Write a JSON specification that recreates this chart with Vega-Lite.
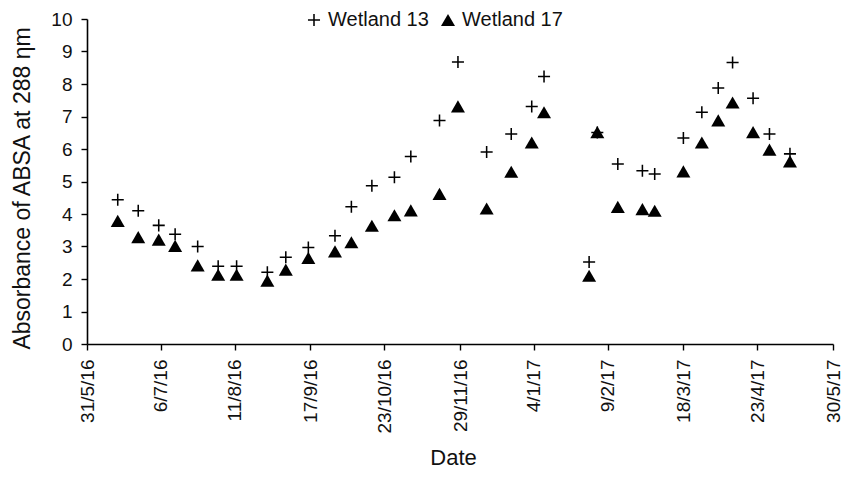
{
  "$schema": "https://vega.github.io/schema/vega-lite/v6.json",
  "autosize": {"type": "none"},
  "padding": {"left": 87, "top": 19, "right": 21, "bottom": 142},
  "width": 746,
  "height": 325,
  "background": "white",
  "view": {"stroke": null},
  "config": {
    "font": "Liberation Sans",
    "axis": {
      "domainColor": "#000",
      "domainWidth": 1.6,
      "tickColor": "#000",
      "tickWidth": 1.4,
      "tickSize": 6,
      "labelFont": "Liberation Sans",
      "labelFontSize": 19,
      "labelColor": "#111",
      "labelPadding": 9,
      "titleFont": "Liberation Sans",
      "titleFontSize": 23,
      "titleFontWeight": "normal",
      "titleColor": "#111",
      "grid": false
    }
  },
  "data": {
    "values": [
      {"date": "2016-06-15", "site": "Wetland 13", "absorbance": 4.44},
      {"date": "2016-06-25", "site": "Wetland 13", "absorbance": 4.10},
      {"date": "2016-07-05", "site": "Wetland 13", "absorbance": 3.65},
      {"date": "2016-07-13", "site": "Wetland 13", "absorbance": 3.38},
      {"date": "2016-07-24", "site": "Wetland 13", "absorbance": 3.00},
      {"date": "2016-08-03", "site": "Wetland 13", "absorbance": 2.39},
      {"date": "2016-08-12", "site": "Wetland 13", "absorbance": 2.39},
      {"date": "2016-08-27", "site": "Wetland 13", "absorbance": 2.21},
      {"date": "2016-09-05", "site": "Wetland 13", "absorbance": 2.67},
      {"date": "2016-09-16", "site": "Wetland 13", "absorbance": 2.97},
      {"date": "2016-09-29", "site": "Wetland 13", "absorbance": 3.33},
      {"date": "2016-10-07", "site": "Wetland 13", "absorbance": 4.22},
      {"date": "2016-10-17", "site": "Wetland 13", "absorbance": 4.87},
      {"date": "2016-10-28", "site": "Wetland 13", "absorbance": 5.13},
      {"date": "2016-11-05", "site": "Wetland 13", "absorbance": 5.77},
      {"date": "2016-11-19", "site": "Wetland 13", "absorbance": 6.88},
      {"date": "2016-11-28", "site": "Wetland 13", "absorbance": 8.68},
      {"date": "2016-12-12", "site": "Wetland 13", "absorbance": 5.91},
      {"date": "2016-12-24", "site": "Wetland 13", "absorbance": 6.46},
      {"date": "2017-01-03", "site": "Wetland 13", "absorbance": 7.31},
      {"date": "2017-01-09", "site": "Wetland 13", "absorbance": 8.23},
      {"date": "2017-01-31", "site": "Wetland 13", "absorbance": 2.52},
      {"date": "2017-02-04", "site": "Wetland 13", "absorbance": 6.51},
      {"date": "2017-02-14", "site": "Wetland 13", "absorbance": 5.54},
      {"date": "2017-02-26", "site": "Wetland 13", "absorbance": 5.33},
      {"date": "2017-03-04", "site": "Wetland 13", "absorbance": 5.23},
      {"date": "2017-03-18", "site": "Wetland 13", "absorbance": 6.34},
      {"date": "2017-03-27", "site": "Wetland 13", "absorbance": 7.13},
      {"date": "2017-04-04", "site": "Wetland 13", "absorbance": 7.88},
      {"date": "2017-04-11", "site": "Wetland 13", "absorbance": 8.66},
      {"date": "2017-04-21", "site": "Wetland 13", "absorbance": 7.56},
      {"date": "2017-04-29", "site": "Wetland 13", "absorbance": 6.46},
      {"date": "2017-05-09", "site": "Wetland 13", "absorbance": 5.85},
      {"date": "2016-06-15", "site": "Wetland 17", "absorbance": 3.79},
      {"date": "2016-06-25", "site": "Wetland 17", "absorbance": 3.29},
      {"date": "2016-07-05", "site": "Wetland 17", "absorbance": 3.21},
      {"date": "2016-07-13", "site": "Wetland 17", "absorbance": 3.02},
      {"date": "2016-07-24", "site": "Wetland 17", "absorbance": 2.42},
      {"date": "2016-08-03", "site": "Wetland 17", "absorbance": 2.13},
      {"date": "2016-08-12", "site": "Wetland 17", "absorbance": 2.13},
      {"date": "2016-08-27", "site": "Wetland 17", "absorbance": 1.95},
      {"date": "2016-09-05", "site": "Wetland 17", "absorbance": 2.29},
      {"date": "2016-09-16", "site": "Wetland 17", "absorbance": 2.65},
      {"date": "2016-09-29", "site": "Wetland 17", "absorbance": 2.85},
      {"date": "2016-10-07", "site": "Wetland 17", "absorbance": 3.13},
      {"date": "2016-10-17", "site": "Wetland 17", "absorbance": 3.64},
      {"date": "2016-10-28", "site": "Wetland 17", "absorbance": 3.96},
      {"date": "2016-11-05", "site": "Wetland 17", "absorbance": 4.11},
      {"date": "2016-11-19", "site": "Wetland 17", "absorbance": 4.62},
      {"date": "2016-11-28", "site": "Wetland 17", "absorbance": 7.31},
      {"date": "2016-12-12", "site": "Wetland 17", "absorbance": 4.17},
      {"date": "2016-12-24", "site": "Wetland 17", "absorbance": 5.30},
      {"date": "2017-01-03", "site": "Wetland 17", "absorbance": 6.20},
      {"date": "2017-01-09", "site": "Wetland 17", "absorbance": 7.13},
      {"date": "2017-01-31", "site": "Wetland 17", "absorbance": 2.10},
      {"date": "2017-02-04", "site": "Wetland 17", "absorbance": 6.52},
      {"date": "2017-02-14", "site": "Wetland 17", "absorbance": 4.22},
      {"date": "2017-02-26", "site": "Wetland 17", "absorbance": 4.15},
      {"date": "2017-03-04", "site": "Wetland 17", "absorbance": 4.10},
      {"date": "2017-03-18", "site": "Wetland 17", "absorbance": 5.31},
      {"date": "2017-03-27", "site": "Wetland 17", "absorbance": 6.20},
      {"date": "2017-04-04", "site": "Wetland 17", "absorbance": 6.88},
      {"date": "2017-04-11", "site": "Wetland 17", "absorbance": 7.43},
      {"date": "2017-04-21", "site": "Wetland 17", "absorbance": 6.52},
      {"date": "2017-04-29", "site": "Wetland 17", "absorbance": 5.98},
      {"date": "2017-05-09", "site": "Wetland 17", "absorbance": 5.62}
    ]
  },
  "mark": {"type": "point", "filled": true, "color": "#000", "opacity": 1, "size": 196},
  "encoding": {
    "x": {
      "field": "date",
      "type": "temporal",
      "scale": {
        "type": "utc",
        "domain": [
          {"year": 2016, "month": 5, "date": 31, "utc": true},
          {"year": 2017, "month": 5, "date": 30, "utc": true}
        ],
        "nice": false
      },
      "axis": {
        "title": "Date",
        "titleFontSize": 22,
        "titleX": 366,
        "titleY": 113,
        "titleBaseline": "middle",
        "titleAlign": "center",
        "labelAngle": -90,
        "labelAlign": "right",
        "labelBaseline": "middle",
        "labelExpr": "utcFormat(datum.value, '%-d/%-m/%y')",
        "values": [
          {"year": 2016, "month": 5, "date": 31, "utc": true},
          {"year": 2016, "month": 7, "date": 6, "utc": true},
          {"year": 2016, "month": 8, "date": 11, "utc": true},
          {"year": 2016, "month": 9, "date": 17, "utc": true},
          {"year": 2016, "month": 10, "date": 23, "utc": true},
          {"year": 2016, "month": 11, "date": 29, "utc": true},
          {"year": 2017, "month": 1, "date": 4, "utc": true},
          {"year": 2017, "month": 2, "date": 9, "utc": true},
          {"year": 2017, "month": 3, "date": 18, "utc": true},
          {"year": 2017, "month": 4, "date": 23, "utc": true},
          {"year": 2017, "month": 5, "date": 30, "utc": true}
        ]
      }
    },
    "y": {
      "field": "absorbance",
      "type": "quantitative",
      "scale": {"domain": [0, 10], "nice": false},
      "axis": {
        "title": "Absorbance of ABSA at 288 ηm",
        "values": [0, 1, 2, 3, 4, 5, 6, 7, 8, 9, 10],
        "titleAngle": -90,
        "titleX": -65,
        "titleY": 169,
        "titleBaseline": "middle",
        "titleAlign": "center"
      }
    },
    "shape": {
      "field": "site",
      "type": "nominal",
      "scale": {
        "domain": ["Wetland 13", "Wetland 17"],
        "range": ["M-0.86,-0.11H-0.11V-0.86H0.11V-0.11H0.86V0.11H0.11V0.86H-0.11V0.11H-0.86Z", "triangle-up"]
      },
      "legend": {
        "title": null,
        "orient": "none",
        "legendX": 217,
        "legendY": -9,
        "direction": "horizontal",
        "padding": 0,
        "labelFont": "Liberation Sans",
        "labelFontSize": 20,
        "labelColor": "#111",
        "labelOffset": 4,
        "columnPadding": 9,
        "symbolSize": 196,
        "symbolFillColor": "#000",
        "symbolStrokeWidth": 0,
        "symbolOpacity": 1
      }
    }
  }
}
